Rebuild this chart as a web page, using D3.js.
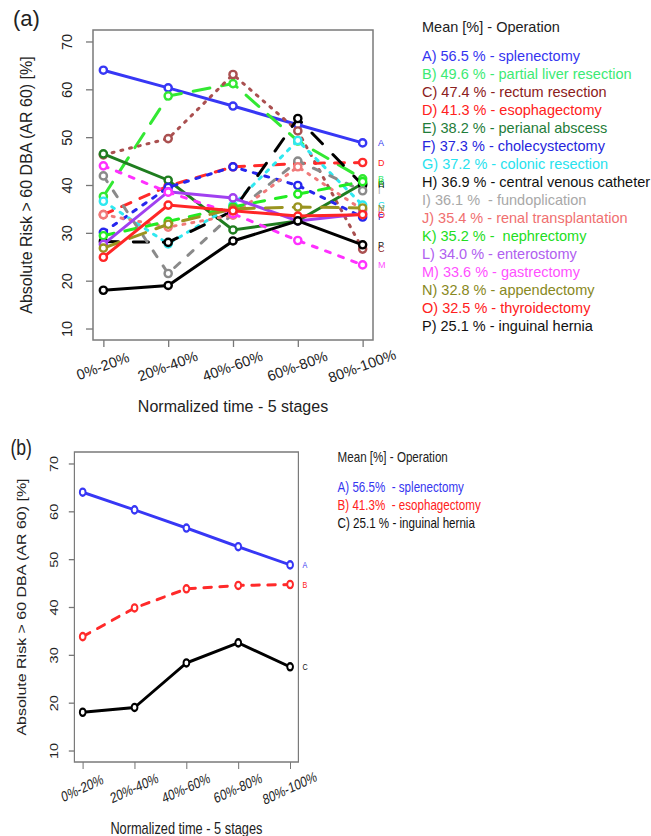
<!DOCTYPE html>
<html>
<head>
<meta charset="utf-8">
<script src="https://cdn.jsdelivr.net/npm/d3@7"></script>
<style>
    body { margin: 0; background: #fff; }
    svg { display: block; font-family: "Liberation Sans", Arial, sans-serif; }
    text { white-space: pre; }
</style>
</head>
<body>
<div id="chart"></div>
<script>
// Stages on the x axis
const stages = ['0%-20%', '20%-40%', '40%-60%', '60%-80%', '80%-100%'];
const yTicks = [10, 20, 30, 40, 50, 60, 70];

// Absolute risk per stage, one array per operation
const splenectomy = [64.0, 60.3, 56.5, 52.6, 48.8];
const partialLiver = [37.6, 58.6, 61.2, 49.2, 41.3];
const rectum = [46.3, 49.7, 63.1, 51.3, 26.6];
const esophagectomy = [33.8, 39.8, 43.8, 44.5, 44.7];
const perianal = [46.5, 41.0, 30.6, 32.5, 40.3];
const cholecystectomy = [30.1, 39.5, 43.8, 39.9, 33.3];
const colonic = [36.6, 27.7, 35.8, 49.3, 35.8];
const venousCatheter = [28.2, 28.0, 34.6, 53.9, 40.0];
const fundoplication = [41.9, 21.5, 34.0, 45.0, 38.8];
const renalTransplant = [33.8, 31.2, 33.7, 43.8, 34.8];
const nephrectomy = [29.4, 32.4, 35.4, 38.1, 40.7];
const enterostomy = [27.6, 38.6, 37.3, 32.5, 34.0];
const gastrectomy = [44.0, 38.5, 34.0, 28.4, 23.3];
const appendectomy = [26.8, 31.8, 35.0, 35.4, 35.2];
const thyroidectomy = [24.9, 35.8, 34.6, 33.5, 33.8];
const inguinalHernia = [18.0, 19.0, 28.3, 32.5, 27.5];

const lettersA = ['A', 'B', 'C', 'D', 'E', 'F', 'G', 'H', 'I', 'J', 'K', 'L', 'M', 'N', 'O', 'P'];
const legendA = [
    'A) 56.5 % - splenectomy',
    'B) 49.6 % - partial liver resection',
    'C) 47.4 % - rectum resection',
    'D) 41.3 % - esophagectomy',
    'E) 38.2 % - perianal abscess',
    'F) 37.3 % - cholecystectomy',
    'G) 37.2 % - colonic resection',
    'H) 36.9 % - central venous catheter',
    'I) 36.1 %  - fundoplication',
    'J) 35.4 % - renal transplantation',
    'K) 35.2 % -  nephrectomy',
    'L) 34.0 % - enterostomy',
    'M) 33.6 % - gastrectomy',
    'N) 32.8 % - appendectomy',
    'O) 32.5 % - thyroidectomy',
    'P) 25.1 % - inguinal hernia'
];

const lettersB = ['A', 'B', 'C'];
const legendB = [
    'A) 56.5%  - splenectomy',
    'B) 41.3%  - esophagectomy',
    'C) 25.1 % - inguinal hernia'
];

// Styles
const lineColorsA = ['#3737f5', '#33e833', '#aa5050', '#ff2a2a', '#1f7d1f', '#2626ee', '#30e8f0', '#000000',
    '#8a8a8a', '#f07a7a', '#22ec22', '#a040f0', '#ff30ff', '#9a9420', '#ff2626', '#000000'];
const textColorsA = ['#3535f0', '#3cea74', '#8b2020', '#ff2020', '#1f7d3a', '#2626dd', '#28e2ee', '#111111',
    '#a8a8a8', '#f07070', '#22dd22', '#b060f0', '#ff50ff', '#888822', '#ff2020', '#111111'];
const dashesA = ['', '17,12', '2,7', '10,10', '', '4,8', '3,7', '15,15',
    '7,11', '2,7', '11,11', '', '5,9', '17,11', '', ''];

function panel() {

    let tag = '',
        tagY = 26,
        series = [],
        endLabels = [],
        lineColors = [],
        textColors = [],
        dashes = [],
        legendItems = [],
        legendTitleY = 31.7,
        legendFirstY = 60.5,
        legendStep = 18,
        xScale = d3.scaleLinear().domain([-0.16, 4.16]).range([93, 373]),
        yScale = d3.scaleLinear().domain([7.6, 72.4]).range([340, 30]);

    function chart(g) {
        const [x0, x1] = xScale.range();
        const [y1, y0] = yScale.range();

        g.append('text')
            .attr('x', 13)
            .attr('y', tagY)
            .attr('font-size', 22)
            .attr('fill', '#222')
            .text(tag);

        // Y axis with rotated tick labels
        const yAxis = g.append('g')
            .attr('transform', 'translate(' + x0 + ',0)')
            .call(d3.axisLeft(yScale).tickValues(yTicks).tickSize(7).tickFormat(d3.format('d')));
        yAxis.select('.domain').remove();
        yAxis.selectAll('line').attr('stroke', '#777').attr('stroke-width', 1.3);
        yAxis.selectAll('text')
            .attr('x', 0)
            .attr('dy', 0)
            .attr('text-anchor', 'middle')
            .attr('transform', 'translate(-21,0) rotate(-90)')
            .attr('font-size', 14.5)
            .attr('font-family', null)
            .attr('fill', '#222');

        // X axis with slanted stage labels
        const xAxis = g.append('g')
            .attr('transform', 'translate(0,' + y1 + ')')
            .call(d3.axisBottom(xScale).tickValues(d3.range(stages.length)).tickSize(7).tickFormat(i => stages[i]));
        xAxis.select('.domain').remove();
        xAxis.selectAll('line').attr('stroke', '#777').attr('stroke-width', 1.3);
        xAxis.selectAll('text')
            .attr('y', 0)
            .attr('dy', '0.35em')
            .attr('text-anchor', 'middle')
            .attr('transform', 'translate(-1,26) rotate(-20)')
            .attr('font-size', 14.5)
            .attr('font-family', null)
            .attr('fill', '#222');

        // Box round the plot region
        g.append('rect')
            .attr('x', x0)
            .attr('y', y0)
            .attr('width', x1 - x0)
            .attr('height', y1 - y0)
            .attr('fill', 'none')
            .attr('stroke', '#7a7a7a')
            .attr('stroke-width', 1.5);

        // Axis titles
        g.append('text')
            .attr('transform', 'translate(32,' + (y0 + y1) / 2 + ') rotate(-90)')
            .attr('text-anchor', 'middle')
            .attr('font-size', 16)
            .attr('fill', '#222')
            .text('Absolute Risk > 60 DBA (AR 60) [%]');

        g.append('text')
            .attr('x', (x0 + x1) / 2)
            .attr('y', y1 + 72)
            .attr('text-anchor', 'middle')
            .attr('font-size', 16)
            .attr('fill', '#222')
            .text('Normalized time - 5 stages');

        // Lines and points, drawn series after series
        const line = d3.line()
            .x((d, i) => xScale(i))
            .y(d => yScale(d));

        series.forEach((values, k) => {
            const s = g.append('g');
            s.append('path')
                .datum(values)
                .attr('d', line)
                .attr('fill', 'none')
                .attr('stroke', lineColors[k])
                .attr('stroke-width', 3)
                .attr('stroke-linecap', 'round')
                .attr('stroke-dasharray', dashes[k] || null);
            s.selectAll('circle')
                .data(values)
                .join('circle')
                .attr('cx', (d, i) => xScale(i))
                .attr('cy', d => yScale(d))
                .attr('r', 3.6)
                .attr('fill', '#fff')
                .attr('stroke', lineColors[k])
                .attr('stroke-width', 2.4);
        });

        // Letters next to the last point
        g.append('g')
            .selectAll('text')
            .data(series)
            .join('text')
            .attr('x', x1 + 5)
            .attr('y', d => yScale(d[d.length - 1]))
            .attr('dy', '0.35em')
            .attr('font-size', 9)
            .attr('fill', (d, k) => textColors[k])
            .text((d, k) => endLabels[k]);

        // Legend
        const legend = g.append('g').attr('transform', 'translate(422,0)');
        legend.append('text')
            .attr('y', legendTitleY)
            .attr('font-size', 14.5)
            .attr('fill', '#222')
            .text('Mean [%] - Operation');
        legend.selectAll('.item')
            .data(legendItems)
            .join('text')
            .attr('class', 'item')
            .attr('y', (d, i) => legendFirstY + i * legendStep)
            .attr('font-size', 14.5)
            .attr('fill', (d, i) => textColors[i])
            .text(d => d);

        return chart;
    }

    chart.tag = function(_, y) { tag = _; if (y !== undefined) tagY = y; return chart; };
    chart.series = function(_) { series = _; return chart; };
    chart.endLabels = function(_) { endLabels = _; return chart; };
    chart.lineColors = function(_) { lineColors = _; return chart; };
    chart.textColors = function(_) { textColors = _; return chart; };
    chart.dashes = function(_) { dashes = _; return chart; };
    chart.legend = function(_) { legendItems = _; return chart; };
    chart.legendY = function(t, f) { legendTitleY = t; legendFirstY = f; return chart; };

    return chart;
}

const svg = d3.select('#chart')
    .append('svg')
    .attr('width', 651)
    .attr('height', 836);

// Panel (a): all sixteen operations
svg.append('g')
    .call(panel()
        .tag('(a)', 26)
        .series([splenectomy, partialLiver, rectum, esophagectomy, perianal, cholecystectomy, colonic,
            venousCatheter, fundoplication, renalTransplant, nephrectomy, enterostomy, gastrectomy,
            appendectomy, thyroidectomy, inguinalHernia])
        .endLabels(lettersA)
        .lineColors(lineColorsA)
        .textColors(textColorsA)
        .dashes(dashesA)
        .legend(legendA));

// Panel (b): three selected operations, the same layout squeezed horizontally
svg.append('g')
    .attr('transform', 'translate(0,422) scale(0.8,1)')
    .call(panel()
        .tag('(b)', 33.5)
        .series([splenectomy, esophagectomy, inguinalHernia])
        .endLabels(lettersB)
        .lineColors(['#3737f5', '#ff2a2a', '#000000'])
        .textColors(['#3535f0', '#ff2020', '#111111'])
        .dashes(['', '10,10', ''])
        .legend(legendB)
        .legendY(40.5, 70.3));
</script>
</body>
</html>
